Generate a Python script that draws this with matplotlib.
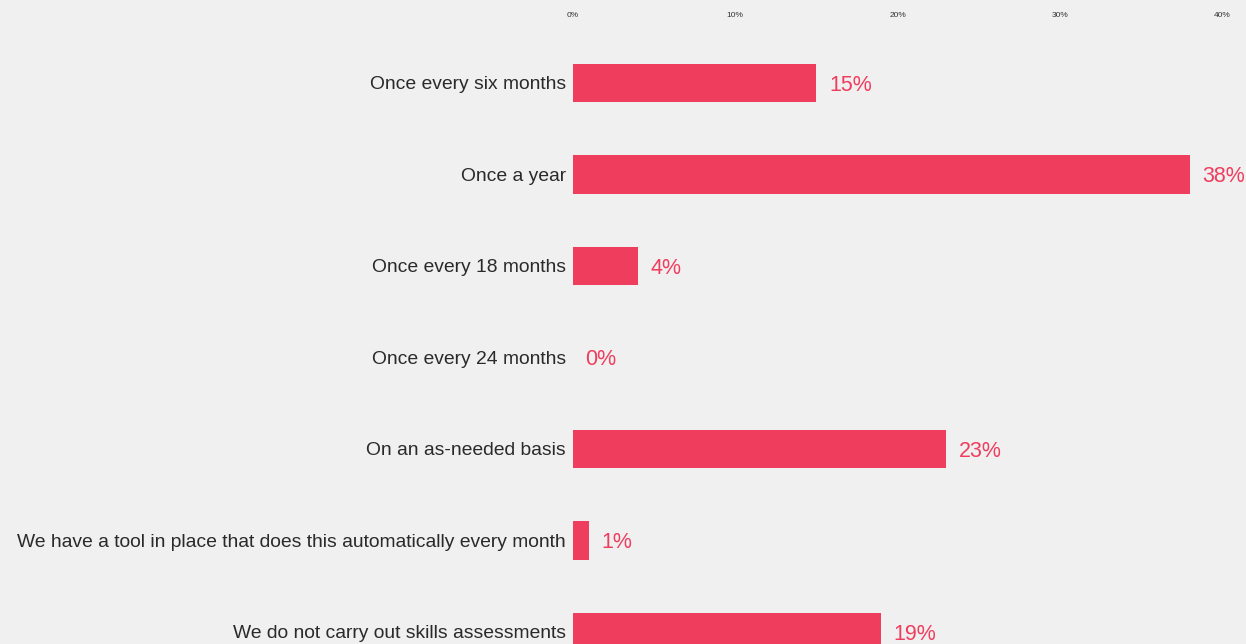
import matplotlib.pyplot as plt

plt.rcParams["font.family"] = ["Liberation Sans", "DejaVu Sans"]

categories = [
    "Once every six months",
    "Once a year",
    "Once every 18 months",
    "Once every 24 months",
    "On an as-needed basis",
    "We have a tool in place that does this automatically every month",
    "We do not carry out skills assessments",
]
values = [15, 38, 4, 0, 23, 1, 19]
tick_values = [0, 10, 20, 30, 40]
tick_labels = ["0%", "10%", "20%", "30%", "40%"]

bg = "#f0f0f0"
bar_color = "#ef3d5e"

fig = plt.figure(figsize=(12.46, 6.44), dpi=100, facecolor=bg)
ax = fig.add_axes([0.4599, -0.0524, 0.5208, 0.9946], facecolor=bg)

pos = list(range(len(categories)))
ax.barh(pos, values, height=0.42, color=bar_color)

for p, v in zip(pos, values):
    ax.annotate(
        f"{v}%",
        xy=(v, p),
        xytext=(9, 0),
        textcoords="offset points",
        ha="left",
        va="center_baseline",
        color=bar_color,
        fontsize=15.5,
    )

ax.set_xlim(0, 40)
ax.set_ylim(6.5, -0.5)
ax.set_yticks(pos)
ax.set_yticklabels(categories, fontsize=13.85, color="#2a2a2a")
ax.set_xticks(tick_values)
ax.set_xticklabels(tick_labels, fontsize=6, color="#333333")
ax.xaxis.tick_top()
ax.tick_params(axis="x", length=0, pad=13)
ax.tick_params(axis="y", length=0, pad=5)

for s in ax.spines.values():
    s.set_visible(False)

fig.savefig("out.png", dpi=100, facecolor=bg)
